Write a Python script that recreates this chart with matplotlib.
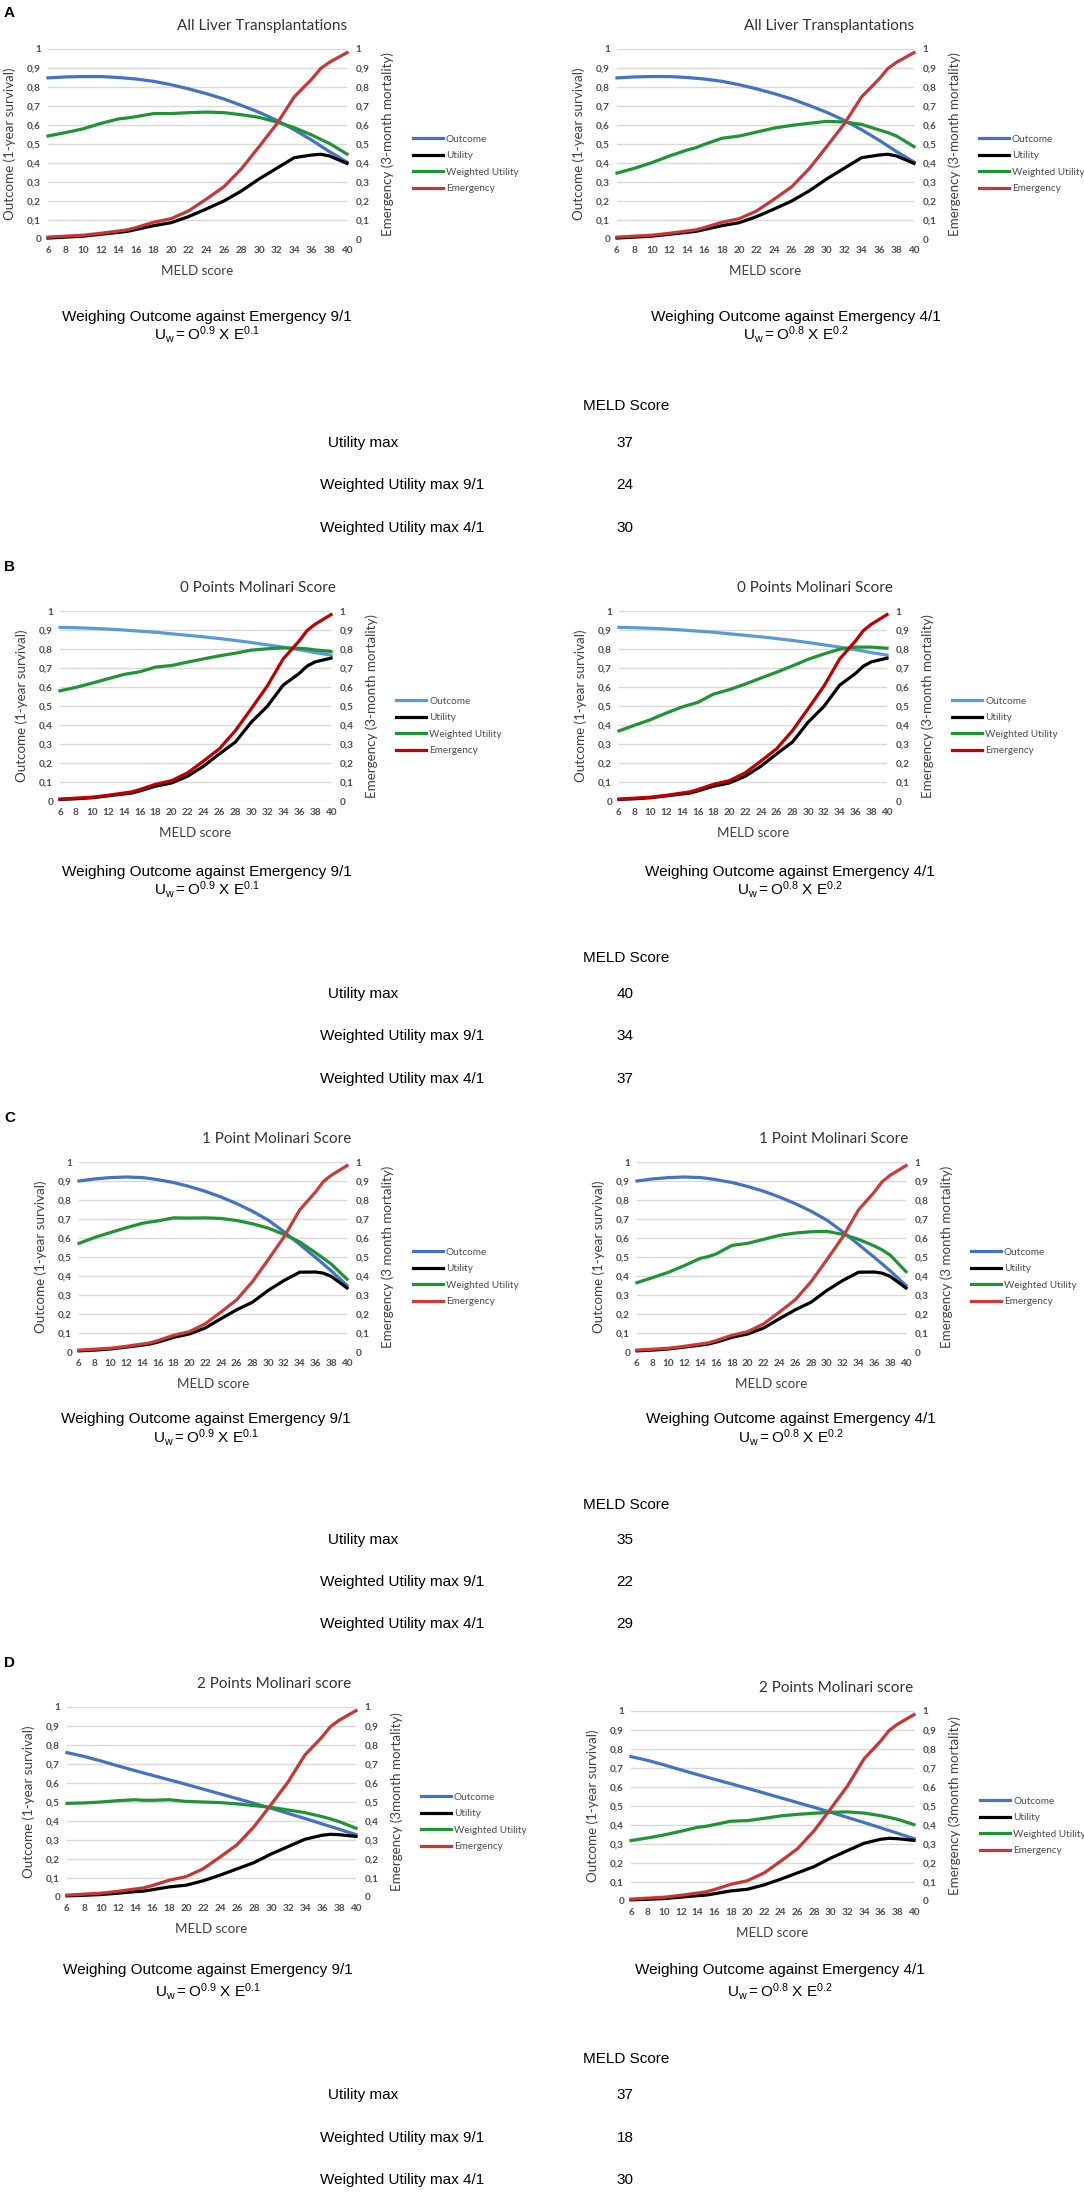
import matplotlib
matplotlib.use("Agg")
import matplotlib.pyplot as plt
from matplotlib.ticker import FuncFormatter

plt.rcParams['mathtext.fontset'] = 'custom'
plt.rcParams['mathtext.rm'] = 'Liberation Sans'
plt.rcParams['mathtext.it'] = 'Liberation Sans'

# ---------------- data ----------------
meld = [6, 8, 10, 12, 14, 15, 16, 18, 20, 22, 24, 26, 28, 30, 32, 34, 36, 37, 38, 40]
xtick_labels = list(range(6, 41, 2))

emergency = [0.010, 0.015, 0.020, 0.030, 0.042, 0.048, 0.060, 0.088, 0.107, 0.148, 0.210, 0.275,
             0.370, 0.486, 0.605, 0.748, 0.842, 0.897, 0.930, 0.981]

# A - all liver transplantations
outcome_all = [0.848, 0.853, 0.855, 0.855, 0.850, 0.846, 0.842, 0.830, 0.812, 0.790, 0.765, 0.737,
               0.703, 0.667, 0.625, 0.575, 0.520, 0.490, 0.460, 0.405]
utility_all = [0.005, 0.010, 0.015, 0.025, 0.035, 0.040, 0.050, 0.070, 0.086, 0.118, 0.158, 0.200,
               0.253, 0.316, 0.372, 0.428, 0.442, 0.446, 0.437, 0.398]
wu91_all = [0.542, 0.560, 0.580, 0.608, 0.632, 0.637, 0.644, 0.660, 0.660, 0.665, 0.668, 0.665,
            0.654, 0.640, 0.616, 0.586, 0.547, 0.525, 0.503, 0.447]
wu41_all = [0.347, 0.372, 0.402, 0.437, 0.468, 0.480, 0.498, 0.530, 0.542, 0.563, 0.584, 0.598,
            0.609, 0.619, 0.616, 0.603, 0.574, 0.560, 0.542, 0.486]

# B - 0 points Molinari
outcome_m0 = [0.914, 0.912, 0.909, 0.905, 0.900, 0.897, 0.894, 0.888, 0.880, 0.872, 0.864, 0.855,
              0.845, 0.834, 0.822, 0.810, 0.796, 0.789, 0.781, 0.768]
utility_m0 = [0.008, 0.012, 0.017, 0.027, 0.037, 0.042, 0.053, 0.078, 0.095, 0.130, 0.183, 0.248,
              0.310, 0.415, 0.498, 0.610, 0.671, 0.710, 0.732, 0.752]
wu91_m0 = [0.580, 0.598, 0.620, 0.643, 0.666, 0.673, 0.680, 0.705, 0.713, 0.731, 0.748, 0.764,
           0.778, 0.794, 0.801, 0.806, 0.804, 0.801, 0.795, 0.787]
wu41_m0 = [0.369, 0.399, 0.428, 0.463, 0.495, 0.507, 0.519, 0.563, 0.586, 0.615, 0.647, 0.678,
           0.711, 0.746, 0.774, 0.799, 0.810, 0.810, 0.810, 0.804]

# C - 1 point Molinari
outcome_m1 = [0.900, 0.911, 0.918, 0.921, 0.918, 0.913, 0.907, 0.892, 0.871, 0.846, 0.816, 0.781,
              0.741, 0.694, 0.633, 0.566, 0.498, 0.463, 0.427, 0.350]
utility_m1 = [0.006, 0.010, 0.016, 0.026, 0.036, 0.042, 0.052, 0.077, 0.095, 0.126, 0.175, 0.222,
              0.262, 0.324, 0.376, 0.420, 0.421, 0.415, 0.398, 0.337]
wu91_m1 = [0.572, 0.603, 0.629, 0.654, 0.677, 0.684, 0.690, 0.706, 0.705, 0.706, 0.703, 0.692,
           0.675, 0.652, 0.619, 0.579, 0.523, 0.493, 0.463, 0.383]
wu41_m1 = [0.365, 0.392, 0.420, 0.455, 0.493, 0.502, 0.516, 0.561, 0.572, 0.593, 0.614, 0.626,
           0.633, 0.635, 0.619, 0.593, 0.558, 0.537, 0.510, 0.423]

# D - 2 points Molinari
outcome_m2 = [0.760, 0.740, 0.716, 0.690, 0.665, 0.653, 0.641, 0.617, 0.593, 0.568, 0.543, 0.518,
              0.493, 0.467, 0.440, 0.413, 0.385, 0.371, 0.357, 0.328]
utility_m2 = [0.006, 0.009, 0.013, 0.020, 0.028, 0.031, 0.038, 0.053, 0.062, 0.085, 0.115, 0.148,
              0.181, 0.226, 0.265, 0.304, 0.325, 0.330, 0.328, 0.319]
wu91_m2 = [0.493, 0.495, 0.500, 0.507, 0.512, 0.509, 0.509, 0.512, 0.503, 0.500, 0.497, 0.490,
           0.481, 0.472, 0.458, 0.444, 0.423, 0.411, 0.397, 0.362]
wu41_m2 = [0.318, 0.332, 0.348, 0.367, 0.388, 0.393, 0.402, 0.420, 0.423, 0.435, 0.448, 0.456,
           0.462, 0.467, 0.469, 0.463, 0.449, 0.440, 0.430, 0.402]

series_names = ['Outcome', 'Utility', 'Weighted Utility', 'Emergency']
table_labels = ['Utility max', 'Weighted Utility max 9/1', 'Weighted Utility max 4/1']
table_all = [37, 24, 30]
table_m0 = [40, 34, 37]
table_m1 = [35, 22, 29]
table_m2 = [37, 18, 30]

titles = ['All Liver Transplantations', '0 Points Molinari Score',
          '1 Point Molinari Score', '2 Points Molinari score']
ylabel_left = 'Outcome (1-year survival)'
ylabels_right = ['Emergency (3-month mortality)', 'Emergency (3-month mortality)',
                 'Emergency (3 month mortality)', 'Emergency (3month mortality)']
weigh_texts = ['Weighing Outcome against Emergency 9/1', 'Weighing Outcome against Emergency 4/1']
formula_texts = [r'$\mathregular{U_w = O^{0.9}\ X\ E^{0.1}}$',
                 r'$\mathregular{U_w = O^{0.8}\ X\ E^{0.2}}$']

# ---------------- layout (pixels) ----------------
W, H = 1084, 2194
fig = plt.figure(figsize=(W / 100, H / 100), dpi=100)
fig.patch.set_facecolor('white')

def fx(p):
    return p / W

def fy(p):
    return 1 - p / H

CH = 'Lato'
AR = 'Liberation Sans'
GRAY = '#4d4d4d'

panels = [
    dict(letter='A', T=26, ly=13,
         left=dict(x0=48, x1=347, dy=0, tcx=262, leg=413),
         right=dict(x0=617, x1=914, dy=0, tcx=829, leg=979),
         txt=(291, 309, 380, (417, 459, 502)), fcx=(207, 796),
         colors=('#4472c4', '#000000', '#1f9434', '#c8363a'),
         data=(outcome_all, utility_all, wu91_all, wu41_all), table=table_all),
    dict(letter='B', T=588, ly=567,
         left=dict(x0=60, x1=331, dy=0, tcx=258, leg=396),
         right=dict(x0=619, x1=887, dy=0, tcx=815, leg=952),
         txt=(284, 302, 370, (406, 448, 491)), fcx=(207, 790),
         colors=('#5b9bd5', '#000000', '#1f9434', '#c00000'),
         data=(outcome_m0, utility_m0, wu91_m0, wu41_m0), table=table_m0),
    dict(letter='C', T=1139, ly=1118,
         left=dict(x0=79, x1=347, dy=0, tcx=277, leg=413),
         right=dict(x0=637, x1=906, dy=0, tcx=834, leg=971),
         txt=(280, 298, 366, (401, 443, 485)), fcx=(206, 791),
         colors=('#4472c4', '#000000', '#1f9434', '#cc3a3a'),
         data=(outcome_m1, utility_m1, wu91_m1, wu41_m1), table=table_m1),
    dict(letter='D', T=1684, ly=1663,
         left=dict(x0=67, x1=356, dy=0, tcx=274, leg=421),
         right=dict(x0=631, x1=914, dy=4, tcx=836, leg=980),
         txt=(286, 308, 375, (411, 454, 496)), fcx=(208, 780),
         colors=('#4472c4', '#000000', '#1f9434', '#cc3333'),
         data=(outcome_m2, utility_m2, wu91_m2, wu41_m2), table=table_m2),
]

fmt = FuncFormatter(lambda v, p: ('%g' % round(v, 1)).replace('.', ','))


def draw_chart(spec, T, title, ylab_r, outcome, utility, wu, colors):
    top = T + 23 + spec['dy']
    bot = top + 190
    x0, x1 = spec['x0'], spec['x1']
    ax = fig.add_axes([fx(x0), fy(bot), fx(x1 - x0), (bot - top) / H])
    ax2 = ax.twinx()
    for a in (ax, ax2):
        a.set_ylim(0, 1)
        a.set_xlim(6, 40)
        for s in a.spines.values():
            s.set_visible(False)
        a.set_yticks([i / 10 for i in range(11)])
        a.yaxis.set_major_formatter(fmt)
        a.tick_params(axis='both', length=0, labelsize=7.2, labelcolor=GRAY)
        for lab in a.get_yticklabels():
            lab.set_fontfamily(CH)
            lab.set_fontweight('bold')
    ax.tick_params(axis='y', pad=5)
    ax2.tick_params(axis='y', pad=6)
    ax.set_xticks(xtick_labels)
    ax.tick_params(axis='x', pad=5)
    for lab in ax.get_xticklabels():
        lab.set_fontfamily(CH)
        lab.set_fontweight('bold')
    ax.grid(axis='y', color='#d9d9d9', linewidth=1.0)
    ax.set_axisbelow(True)
    lw = 2.3
    l1, = ax.plot(meld, outcome, color=colors[0], lw=lw, clip_on=False, zorder=3)
    l2, = ax.plot(meld, utility, color=colors[1], lw=lw, clip_on=False, zorder=3)
    l3, = ax.plot(meld, wu, color=colors[2], lw=lw, clip_on=False, zorder=3)
    l4, = ax2.plot(meld, emergency, color=colors[3], lw=lw, clip_on=False, zorder=3)
    # titles and labels
    fig.text(fx(spec['tcx']), fy(top - 23), title, ha='center', va='center',
             fontsize=11, color='#333333', family=CH)
    fig.text(fx(x0 - 38), fy((top + bot) / 2), ylabel_left, rotation=90, ha='center',
             va='center', fontsize=9.6, color='#404040', family=CH)
    fig.text(fx(x1 + 41), fy((top + bot) / 2), ylab_r, rotation=90, ha='center',
             va='center', fontsize=9.6, color='#404040', family=CH)
    fig.text(fx((x0 + x1) / 2), fy(bot + 32), 'MELD score', ha='center', va='center',
             fontsize=9.6, color='#404040', family=CH)
    leg = ax.legend([l1, l2, l3, l4], series_names, loc='center left',
                    bbox_to_anchor=(fx(spec['leg']), fy(top + 115)),
                    bbox_transform=fig.transFigure, frameon=False,
                    prop=dict(family=CH, size=7.2), handlelength=3.0, handletextpad=0.3,
                    labelspacing=0.75, borderpad=0, borderaxespad=0)
    for t in leg.get_texts():
        t.set_color(GRAY)
    for h in leg.get_lines():
        h.set_linewidth(2.3)


for i, pn in enumerate(panels):
    T = pn['T']
    fig.text(fx(4), fy(pn['ly']), pn['letter'], ha='left', va='center', fontsize=11,
             fontweight='bold', family=AR, color='black')
    o, u, w91, w41 = pn['data']
    draw_chart(pn['left'], T, titles[i], ylabels_right[i], o, u, w91, pn['colors'])
    draw_chart(pn['right'], T, titles[i], ylabels_right[i], o, u, w41, pn['colors'])
    wy, fyy, my, rows = pn['txt']
    for k in range(2):
        fig.text(fx(pn['fcx'][k]), fy(T + wy), weigh_texts[k], ha='center', va='center',
                 fontsize=11, family=AR, color='black')
        fig.text(fx(pn['fcx'][k]), fy(T + fyy), formula_texts[k], ha='center', va='center',
                 fontsize=11, family=AR, color='black')
    fig.text(fx(626), fy(T + my), 'MELD Score', ha='center', va='center', fontsize=11,
             family=AR, color='black')
    lab_x = [328, 320, 320]
    for r in range(3):
        fig.text(fx(lab_x[r]), fy(T + rows[r]), table_labels[r], ha='left', va='center',
                 fontsize=11, family=AR, color='black')
        fig.text(fx(625), fy(T + rows[r]), str(pn['table'][r]), ha='center', va='center',
                 fontsize=11, family=AR, color='black')

fig.savefig('out.png', dpi=100, facecolor='white')
